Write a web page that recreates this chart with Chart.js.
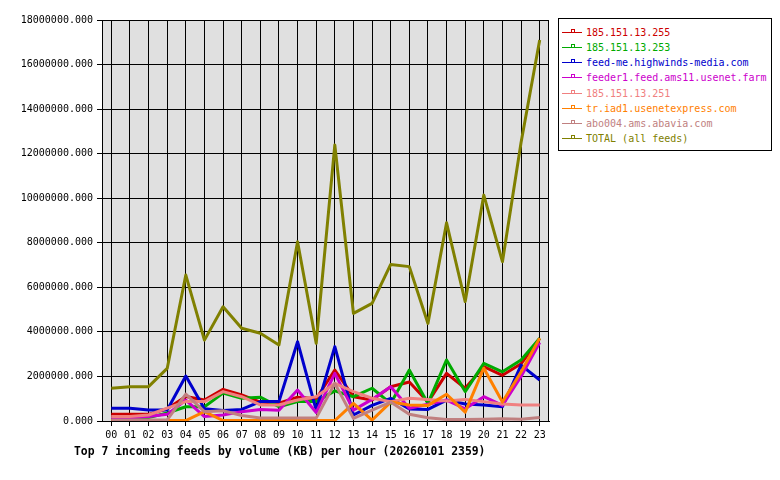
<!DOCTYPE html>
<html>
<head>
<meta charset="utf-8">
<script src="https://cdn.jsdelivr.net/npm/chart.js@4/dist/chart.umd.min.js"></script>
<style>
  html, body { margin: 0; padding: 0; background: #ffffff; }
  #wrap { position: relative; width: 780px; height: 480px; overflow: hidden; }
  #c { position: absolute; left: 0; top: 0; }
  #legend { position: absolute; left: 558px; top: 18px; width: 212px; height: 131px;
            border: 1px solid #000; background: #fff; box-sizing: content-box; }
  .item { position: absolute; left: 0; height: 15px; width: 212px;
          font: 10px "DejaVu Sans Mono", monospace; line-height: 15px; white-space: nowrap; }
  .sym { position: absolute; left: 3px; top: 7px; width: 20px; height: 1px; }
  .sq { position: absolute; left: 9px; top: -3px; width: 2px; height: 2px; border: 1px solid; background: transparent; }
  .txt { position: absolute; left: 27px; top: 0; }
  #title { position: absolute; left: 74px; top: 444px; font: bold 11.4px "DejaVu Sans Mono", monospace;
           line-height: 14px; color: #000; white-space: nowrap; }
</style>
</head>
<body>
<div id="wrap">
  <canvas id="c" width="780" height="480"></canvas>
  <div id="legend"></div>
  <div id="title">Top 7 incoming feeds by volume (KB) per hour (20260101 2359)</div>
</div>
<script>
// ---- data (KB per hour) ----
const hours = ["00","01","02","03","04","05","06","07","08","09","10","11",
               "12","13","14","15","16","17","18","19","20","21","22","23"];

const feedNames = ["185.151.13.255", "185.151.13.253", "feed-me.highwinds-media.com",
  "feeder1.feed.ams11.usenet.farm", "185.151.13.251", "tr.iad1.usenetexpress.com",
  "abo004.ams.abavia.com", "TOTAL (all feeds)"];

const feed255 = [300000, 300000, 300000, 550000, 1100000, 940000, 1420000, 1170000, 850000, 800000, 1070000, 1000000,
                 2290000, 1090000, 940000, 1540000, 1750000, 850000, 2140000, 1470000, 2440000, 2050000, 2570000, 3700000];
const feed253 = [120000, 120000, 150000, 360000, 640000, 640000, 1250000, 1020000, 1070000, 640000, 870000, 870000,
                 1350000, 1090000, 1470000, 790000, 2290000, 790000, 2740000, 1320000, 2590000, 2210000, 2740000, 3710000];
const feedHighwinds = [570000, 570000, 490000, 490000, 2020000, 550000, 470000, 520000, 870000, 870000, 3560000, 490000,
                 3340000, 270000, 700000, 1020000, 540000, 520000, 940000, 760000, 720000, 640000, 2510000, 1840000];
const feedUsenetFarm = [150000, 150000, 200000, 300000, 940000, 200000, 270000, 420000, 520000, 480000, 1390000, 380000,
                 2140000, 490000, 970000, 1540000, 570000, 750000, 940000, 550000, 1090000, 700000, 2000000, 3520000];
const feed251 = [200000, 200000, 270000, 580000, 870000, 870000, 1320000, 1090000, 720000, 720000, 940000, 1090000,
                 1690000, 1320000, 1020000, 870000, 1020000, 970000, 900000, 970000, 870000, 760000, 720000, 720000];
const feedUsenetExpress = [20000, 20000, 20000, 20000, 20000, 420000, 20000, 20000, 20000, 20000, 20000, 20000,
                 20000, 790000, 40000, 850000, 720000, 700000, 1200000, 400000, 2370000, 850000, 2200000, 3720000];
const feedAbavia = [50000, 50000, 50000, 50000, 1210000, 420000, 460000, 250000, 130000, 130000, 130000, 130000,
                 1690000, 120000, 490000, 850000, 300000, 150000, 70000, 70000, 80000, 100000, 80000, 160000];
const totalAll = [1470000, 1540000, 1540000, 2360000, 6550000, 3630000, 5130000, 4160000, 3940000, 3410000, 8050000, 3490000,
                 12390000, 4830000, 5280000, 7030000, 6930000, 4380000, 8900000, 5360000, 10140000, 7150000, 12500000, 17100000];

const yTicksMax = 18000000;
const yTickStep = 2000000;

const seriesValues = [feed255, feed253, feedHighwinds, feedUsenetFarm, feed251, feedUsenetExpress, feedAbavia, totalAll];
const seriesColors = ["#cc0000", "#00aa00", "#0000cc", "#cc00cc", "#f08080", "#ff8000", "#c08080", "#808000"];

// ---- chart ----
const MONO = '"DejaVu Sans Mono", monospace';

const datasets = seriesValues.map((vals, i) => ({
  label: feedNames[i],
  data: vals,
  borderColor: seriesColors[i],
  backgroundColor: seriesColors[i],
  borderWidth: 3,
  borderJoinStyle: 'round',
  borderCapStyle: 'butt',
  pointRadius: 0,
  pointHoverRadius: 0,
  tension: 0,
  fill: false,
  order: seriesValues.length - i
}));

const plotFrame = {
  id: 'plotFrame',
  beforeDraw(chart) {
    const a = chart.chartArea, ctx = chart.ctx;
    ctx.save();
    ctx.fillStyle = '#e0e0e0';
    ctx.fillRect(a.left, a.top, a.right - a.left, a.bottom - a.top);
    ctx.restore();
  },
  beforeDatasetsDraw(chart) {
    const a = chart.chartArea, ctx = chart.ctx;
    ctx.save();
    ctx.strokeStyle = '#000';
    ctx.lineWidth = 1;
    ctx.strokeRect(Math.round(a.left) + 0.5, Math.round(a.top) + 0.5,
                   Math.round(a.right - a.left) - 1, Math.round(a.bottom - a.top));
    ctx.restore();
  }
};

new Chart(document.getElementById('c'), {
  type: 'line',
  data: { labels: hours, datasets },
  options: {
    responsive: false,
    animation: false,
    devicePixelRatio: 1,
    layout: { padding: { left: 0, right: 231, top: 20, bottom: 0 } },
    plugins: { legend: { display: false }, tooltip: { enabled: false }, title: { display: false } },
    events: [],
    scales: {
      x: {
        type: 'category',
        offset: true,
        grid: { offset: false, color: '#000', lineWidth: 1, drawTicks: true, tickLength: 5 },
        border: { color: '#000', width: 1 },
        ticks: { color: '#000', font: { family: MONO, size: 10 }, padding: 3, maxRotation: 0, autoSkip: false },
        afterFit(s) { s.height = 59; }
      },
      y: {
        min: 0,
        max: yTicksMax,
        grid: { color: '#000', lineWidth: 1, drawTicks: true, tickLength: 5 },
        border: { color: '#000', width: 1 },
        ticks: { stepSize: yTickStep, color: '#000', font: { family: MONO, size: 10 }, padding: 4,
                 callback: v => Number(v).toFixed(3) },
        afterFit(s) { s.width = 102; }
      }
    }
  },
  plugins: [plotFrame]
});

// ---- legend (HTML text) ----
const legend = document.getElementById('legend');
feedNames.forEach((name, i) => {
  const row = document.createElement('div');
  row.className = 'item';
  row.style.top = (6 + i * 15.15) + 'px';
  row.style.color = seriesColors[i];
  const sym = document.createElement('div');
  sym.className = 'sym';
  sym.style.background = seriesColors[i];
  const sq = document.createElement('div');
  sq.className = 'sq';
  sq.style.borderColor = seriesColors[i];
  sym.appendChild(sq);
  const t = document.createElement('div');
  t.className = 'txt';
  t.textContent = name;
  row.appendChild(sym);
  row.appendChild(t);
  legend.appendChild(row);
});
</script>
</body>
</html>
